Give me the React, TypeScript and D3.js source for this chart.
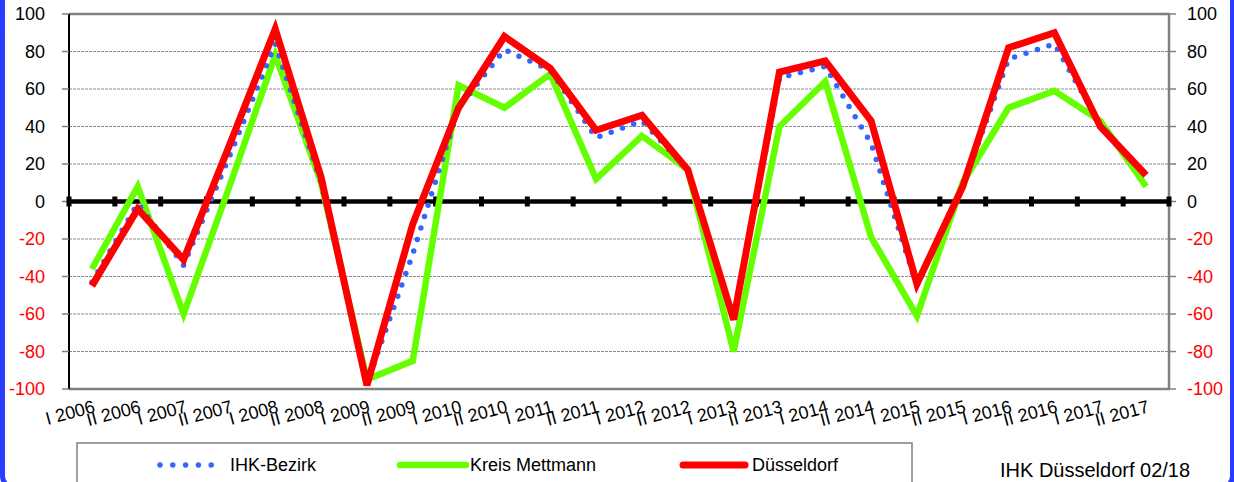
import React from "react";
import * as d3 from "d3";

const categories = [
  "I 2006", "II 2006", "I 2007", "II 2007", "I 2008", "II 2008",
  "I 2009", "II 2009", "I 2010", "II 2010", "I 2011", "II 2011",
  "I 2012", "II 2012", "I 2013", "II 2013", "I 2014", "II 2014",
  "I 2015", "II 2015", "I 2016", "II 2016", "I 2017", "II 2017",
];
const ihkBezirk = [-43, -1, -34, 24, 84, 10, -97, -28, 50, 81, 70, 34, 43, 17, -64, 66, 72, 31, -45, 8, 76, 84, 41, 14];
const kreisMettmann = [-36, 8, -60, 8, 78, 10, -95, -85, 62, 50, 68, 12, 35, 17, -80, 40, 64, -19, -61, 10, 50, 59, 43, 8];
const duesseldorf = [-45, -4, -31, 30, 92, 13, -98, -12, 50, 88, 71, 38, 46, 17, -63, 69, 75, 43, -44, 8, 82, 90, 40, 14];
const yTicks = [-100, -80, -60, -40, -20, 0, 20, 40, 60, 80, 100];

const W = 1234, H = 482;
const L = 69, R = 1169, T = 14, B = 389;
const FONT = "'Liberation Sans', Arial, sans-serif";

export default function App() {
  const x = d3.scaleBand<string>().domain(categories).range([L, R]);
  const y = d3.scaleLinear().domain([-100, 100]).range([B, T]);
  const cx = (c: string) => (x(c) as number) + x.bandwidth() / 2;
  const line = d3.line<number>().x((_, i) => cx(categories[i])).y((v) => y(v));
  const boundaries = d3.range(categories.length + 1).map((k) => L + k * x.bandwidth());

  return (
    <svg width={W} height={H} style={{ position: "absolute", left: 0, top: 0, background: "#fff" }} fontFamily={FONT}>
      <rect x={0} y={0} width={W} height={H} fill="#fff" />
      {/* frame */}
      <rect x={2.5} y={-30} width={1230} height={518} rx={12} fill="none" stroke="#2a3cff" strokeWidth={5} />
      {/* gridlines */}
      {yTicks.filter((t) => t !== 0 && Math.abs(t) !== 100).map((t) => (
        <line key={"g" + t} x1={L} x2={R} y1={y(t)} y2={y(t)} stroke="#8a8a8a" strokeWidth={1} strokeDasharray="3 1" />
      ))}
      {/* plot border */}
      <line x1={L} x2={R + 1} y1={T} y2={T} stroke="#808080" strokeWidth={2.5} />
      <line x1={R} x2={R} y1={T} y2={B} stroke="#808080" strokeWidth={2.5} />
      <line x1={L} x2={R + 1} y1={B} y2={B} stroke="#808080" strokeWidth={2.5} />
      <line x1={L} x2={L} y1={T} y2={B} stroke="#000" strokeWidth={2} />
      {/* axis ticks */}
      {yTicks.map((t) => (
        <g key={"t" + t}>
          <line x1={L - 7} x2={L} y1={y(t)} y2={y(t)} stroke="#808080" strokeWidth={1.5} />
          <line x1={R} x2={R + 7} y1={y(t)} y2={y(t)} stroke="#808080" strokeWidth={1.5} />
          <text x={45} y={y(t)} dy="0.35em" textAnchor="end" fontSize={18} fill={t < 0 ? "#ff0000" : "#000"}>{t}</text>
          <text x={1187} y={y(t)} dy="0.35em" textAnchor="start" fontSize={18} fill={t < 0 ? "#ff0000" : "#000"}>{t}</text>
        </g>
      ))}
      {/* zero line */}
      <line x1={L} x2={R} y1={y(0)} y2={y(0)} stroke="#000" strokeWidth={4.5} />
      {boundaries.map((bx, i) => (
        <rect key={"b" + i} x={bx - 2.5} y={y(0) - 5} width={5} height={10} fill="#000" />
      ))}
      {/* series */}
      <path d={line(kreisMettmann) as string} fill="none" stroke="#66ff00" strokeWidth={6.5} strokeLinejoin="miter" />
      <path d={line(ihkBezirk) as string} fill="none" stroke="#3366ff" strokeWidth={5.5} strokeDasharray="0 12" strokeLinecap="round" />
      <path d={line(duesseldorf) as string} fill="none" stroke="#ff0000" strokeWidth={7} strokeLinejoin="miter" />
      {/* x labels */}
      {categories.map((c) => (
        <text key={c} x={cx(c) + 4} y={412} textAnchor="end" fontSize={18} fill="#000"
          transform={`rotate(-15 ${cx(c) + 4} 412)`}>{c}</text>
      ))}
      {/* legend */}
      <rect x={77} y={443} width={835} height={60} fill="#fff" stroke="#808080" strokeWidth={1.5} />
      <line x1={160} x2={224} y1={465} y2={465} stroke="#3366ff" strokeWidth={5.5} strokeDasharray="0 12.8" strokeLinecap="round" />
      <text x={230} y={465} dy="0.35em" fontSize={18}>IHK-Bezirk</text>
      <line x1={400} x2={466} y1={465} y2={465} stroke="#66ff00" strokeWidth={6.5} strokeLinecap="round" />
      <text x={470} y={465} dy="0.35em" fontSize={18}>Kreis Mettmann</text>
      <line x1={683} x2={745} y1={465} y2={465} stroke="#ff0000" strokeWidth={7} strokeLinecap="round" />
      <text x={752} y={465} dy="0.35em" fontSize={18}>Düsseldorf</text>
      <text x={1000} y={477} fontSize={20}>IHK Düsseldorf 02/18</text>
    </svg>
  );
}
